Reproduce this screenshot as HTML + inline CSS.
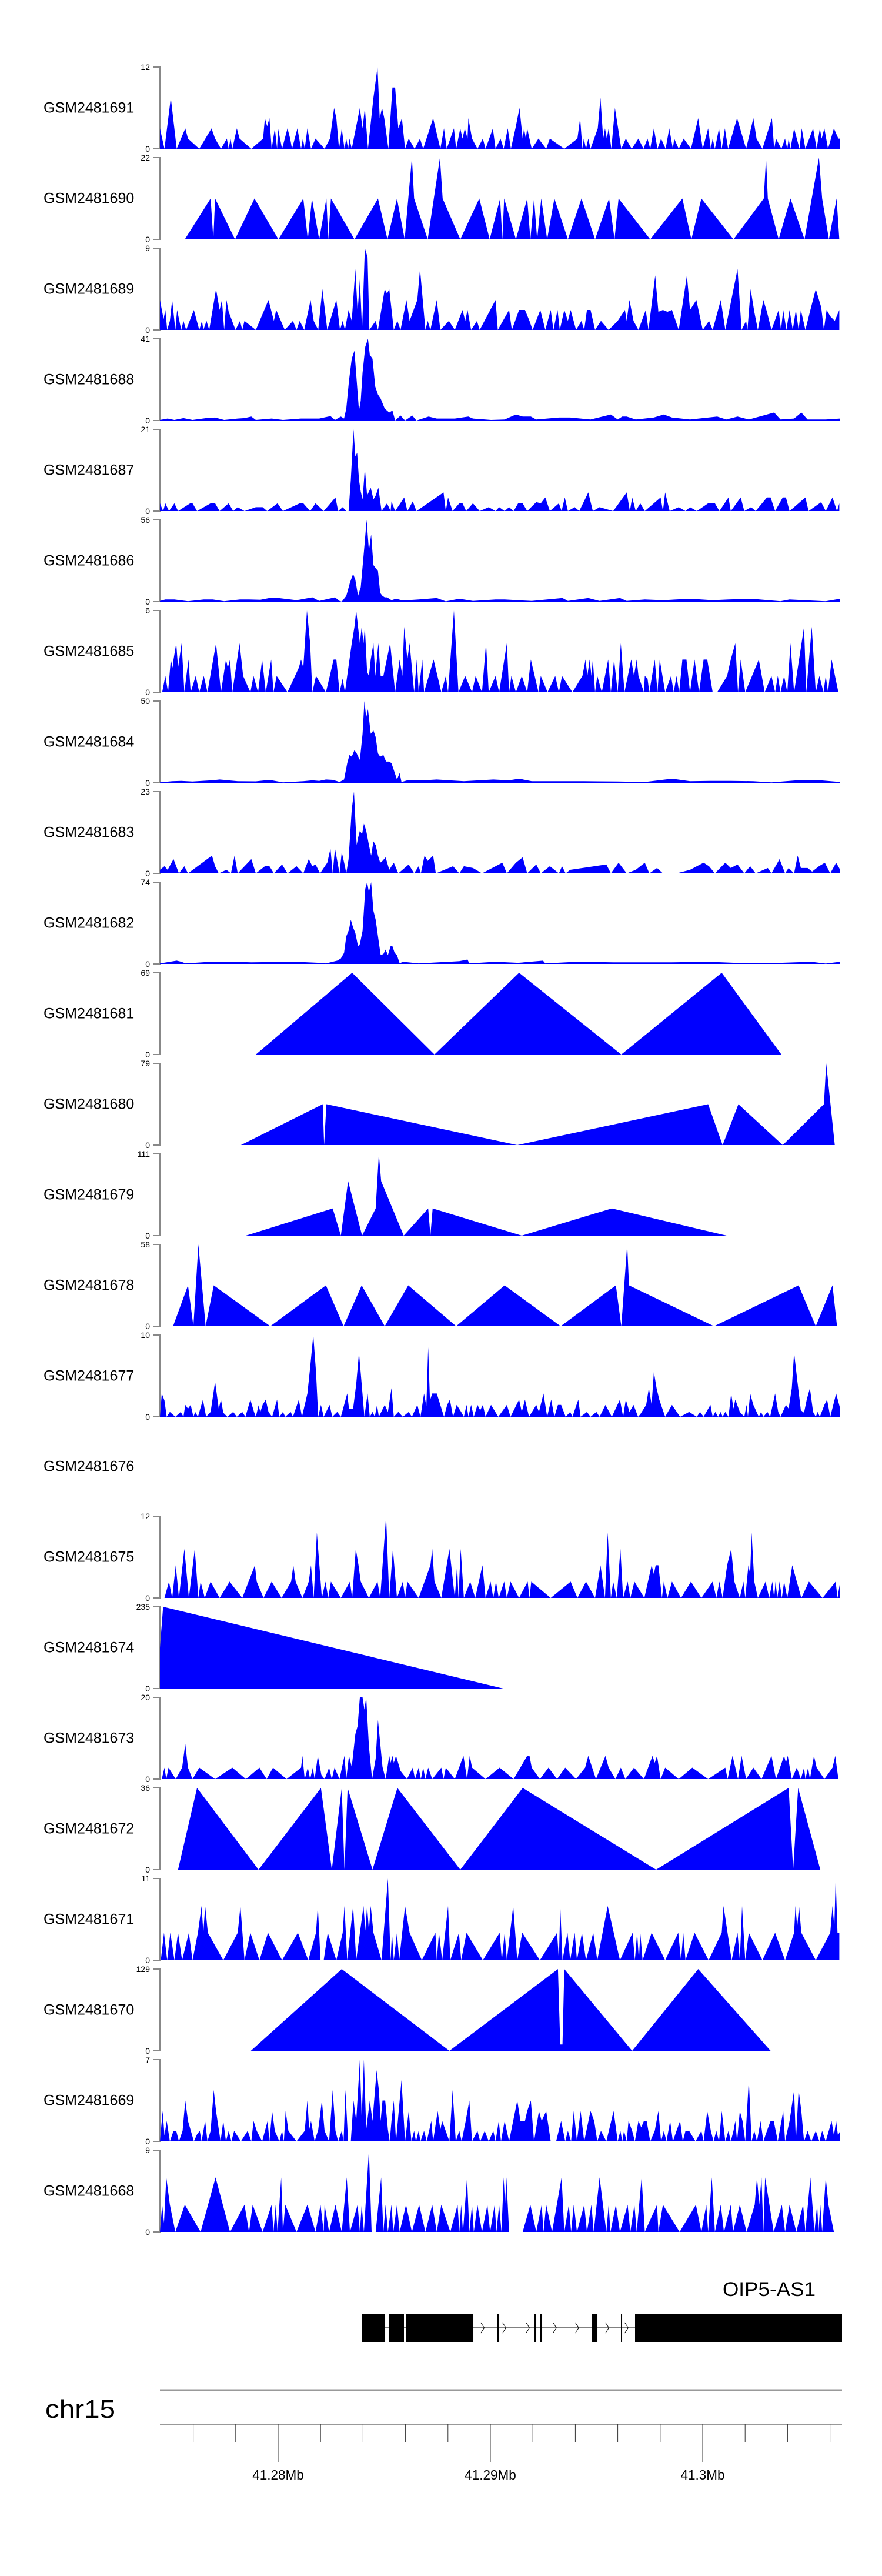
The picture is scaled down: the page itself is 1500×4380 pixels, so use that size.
<!DOCTYPE html>
<html><head><meta charset="utf-8">
<style>
html,body{margin:0;padding:0;background:#fff;}
svg{display:block;font-family:"Liberation Sans",Arial,sans-serif;}
</style></head>
<body>
<svg id="chart" width="1500" height="4380" viewBox="0 0 1500 4380" xmlns="http://www.w3.org/2000/svg"></svg>
<script>
// Sample names (top to bottom)
const sampleNames = ["GSM2481691","GSM2481690","GSM2481689","GSM2481688","GSM2481687","GSM2481686","GSM2481685","GSM2481684","GSM2481683","GSM2481682","GSM2481681","GSM2481680","GSM2481679","GSM2481678","GSM2481677","GSM2481676","GSM2481675","GSM2481674","GSM2481673","GSM2481672","GSM2481671","GSM2481670","GSM2481669","GSM2481668"];
// y-axis maximum per track (null = no data)
const yMax = [12,22,9,41,21,56,6,50,23,74,69,79,111,58,10,null,12,235,20,36,11,129,7,9];
// coverage: flat [bin, value] pairs; bins of ~21bp, domain 28..1532
const cov691 = [28,3,38,0,52,7.5,65,0,84,3,90,1.5,115,0,142,3,150,1.5,163,0,176,1.5,180,0,184,1.5,188,0,198,3,204,1.5,230,0,256,1.5,260,4.5,265,3.3,270,4.5,275,0,282,3,287,0,289,3,298,0,310,3,316,1.5,320,0,332,3,340,0,344,1.5,348,0,354,3,362,0,372,1.5,392,0,404,1.5,413,6,418,4.5,424,0,430,3,436,0,440,1.5,444,0,447,1.5,452,0,470,6,476,3,481,6,488,0,500,7.5,509,12,514,4.5,519,6,524,4.5,533,0,542,9,548,9,555,3,563,4.5,570,0,578,1.5,591,0,603,1.5,610,0,632,4.5,648,0,656,3,662,0,678,3,683,0,692,3,697,1.5,702,3,708,1.5,710,4.5,718,1.5,730,0,742,1.5,748,0,764,3,770,0,781,1.5,788,0,797,3,804,0,814,3,823,6,830,1.5,833,3,837,1.5,840,3,850,0,865,1.5,882,0,890,1.5,922,0,951,1.5,957,4.5,962,0,965,1.5,970,0,975,1.5,980,0,996,3,1002,7.5,1008,1.5,1012,3,1016,1.5,1020,3,1026,0,1034,6,1048,0,1058,1.5,1071,0,1086,1.5,1097,0,1106,1.5,1112,0,1120,3,1124,1.5,1128,0,1136,1.5,1146,0,1154,3,1162,0,1165,1.5,1175,0,1186,1.5,1202,0,1218,4.5,1228,0,1240,3,1246,0,1250,1.5,1255,0,1264,3,1270,0,1277,3,1284,0,1304,4.5,1324,0,1340,4.5,1347,1.5,1360,0,1381,4.5,1386,0,1390,1.5,1402,0,1410,1.5,1415,0,1418,1.5,1422,0,1430,3,1442,0,1447,3,1455,0,1472,3,1480,0,1487,3,1491,1.5,1497,3,1505,0,1518,3,1528,1.5,1532,1.5];
const cov690 = [83,0,140,11,146,0,150,11,194,0,237,11,290,0,345,11,355,0,364,11,380,0,396,11,400,0,406,11,458,0,510,11,531,0,552,11,569,0,585,22,590,11,620,0,647,22,653,11,692,0,734,11,757,0,780,11,785,0,789,11,815,0,840,11,847,0,855,11,862,0,871,11,884,0,900,11,930,0,960,11,990,0,1021,11,1033,0,1042,11,1112,0,1183,11,1203,0,1225,11,1296,0,1363,11,1368,22,1372,11,1396,0,1422,11,1453,0,1485,22,1492,11,1507,0,1524,11,1530,0];
const cov689 = [28,3.3,36,1.2,40,2.2,44,0,50,1,55,3.3,62,0,66,2.2,75,0,80,1,86,0,103,2.2,115,0,121,1,124,0,131,1,137,0,152,4.5,160,2.2,165,3.3,170,0,175,3.3,180,2,195,0,205,1,210,0,215,1,240,0,268,3.3,280,1,285,2.2,304,0,322,1,330,0,337,1,347,0,361,3.3,368,1,378,0,387,4.5,398,0,418,3.3,426,0,432,1,437,0,445,2.2,452,1,460,6.7,465,2,470,5.6,475,0,481,9,487,8,491,0,505,1,510,0,525,4.5,530,4,535,4.5,545,0,553,1,560,0,573,3.3,580,1,597,3.3,603,6.7,615,0,620,1,626,0,640,3.3,648,0,667,1,680,0,697,2.2,703,1,708,2.2,716,0,729,1,735,0,770,3.3,775,0,800,2.2,806,0,822,2.2,835,2.2,845,1,852,0,869,2.2,880,0,892,2.2,898,0,907,2.2,912,0,922,2.2,930,1,936,2.2,948,0,960,1,966,0,972,2.2,980,2.2,990,0,1003,1,1020,0,1040,1,1056,2.2,1060,1,1066,3.3,1075,1,1086,0,1102,2.2,1108,0,1123,6,1130,2,1140,2.2,1150,2,1160,2.2,1175,0,1193,6,1200,2.2,1214,3.3,1228,0,1242,1,1250,0,1268,3.3,1278,0,1305,6.7,1314,0,1324,1,1327,0,1334,4.5,1342,2,1350,0,1362,3.3,1370,2,1380,0,1396,2.2,1401,0,1406,2.2,1413,0,1420,2.2,1427,0,1434,2.2,1440,0,1445,2.2,1455,0,1465,2,1478,4.5,1490,2.5,1496,0,1502,2.2,1510,1.5,1520,1,1530,2.2];
const cov688 = [28,0.3,45,1,60,0.3,80,1.2,100,0.3,130,1.2,150,1.5,170,0.3,200,1,215,1.2,230,2,240,0.3,275,1,300,0.3,340,1,380,1,405,2.2,415,0.3,428,2,435,1,440,6,446,20,452,31,458,35,463,20,468,5,472,10,476,24,482,37,488,41,492,33,498,31,504,17,510,13,516,11,525,6,535,4,542,5,548,0,560,2.5,570,0,586,2.5,595,0,622,2,640,1,680,1,710,2,720,1,760,0.3,790,0.5,815,3,830,2,848,2,860,0.5,910,1.5,935,1.5,980,0.5,1025,3,1040,0.5,1050,2,1060,2,1080,0.5,1120,1.5,1142,3,1160,1.5,1200,0.5,1260,2,1280,0.5,1305,2,1330,0.5,1386,4,1400,0.5,1430,1,1446,4,1460,0.5,1500,0.5,1532,1];
const cov687 = [28,2,35,0,40,2,48,0,60,2,68,0,95,2,100,2,110,0,140,2,150,2,160,0,180,2,190,0,200,1,215,0,240,1,255,1,265,0,288,2,300,0,337,2,345,2,360,0,372,2,390,0,416,3.5,422,0,432,1,440,0,445,0,450,8,456,21,460,14,464,15,468,8,472,5,476,3,481,11,486,4,490,5,494,6,500,3,505,4,511,6,518,0,530,2,538,0,540,2.5,548,0,568,3.5,575,0,587,2.5,595,0,655,4.8,660,0,665,3.5,675,0,690,2,697,2,705,0,720,2,735,0,755,1,770,0,778,1,790,0,800,1,810,0,820,2,830,2,840,0,860,2.3,870,2,880,3.5,890,0,910,2,916,0,923,3.5,930,0,945,1,955,0,975,4.8,985,0,1000,1,1030,0,1060,4.8,1067,0,1072,3.5,1080,0,1090,2,1100,0,1135,3.5,1140,0,1145,4.8,1155,0,1175,1,1190,0,1200,1,1215,0,1240,2,1255,2,1265,0,1285,3.5,1290,0,1312,3.5,1320,0,1335,1,1345,0,1370,3.5,1378,3.5,1388,0,1405,3.5,1412,3.5,1420,0,1455,3.5,1462,0,1490,2.3,1500,0,1515,3.5,1525,0,1530,2];
const cov686 = [28,0.5,40,1.5,60,1.5,90,0.3,125,1.5,145,1.5,170,0.3,205,1.5,225,1.5,250,1.3,270,2.5,290,2.5,330,1,365,3,380,0.5,415,3,425,0.5,430,0,440,4,448,13,455,19,460,15,466,4,472,10,480,38,485,56,490,35,495,46,500,25,510,21,515,6,520,4,525,3,530,3,540,1,550,2,565,0.8,600,1.5,640,2.5,660,0.2,690,2,720,0.5,770,1.5,790,1.5,850,0.5,918,2.5,930,0.5,975,2.5,1000,0.5,1045,2.5,1060,0.5,1100,1.5,1140,1,1200,2,1250,1,1285,1.5,1335,2,1400,0.3,1420,1.5,1500,0.3,1532,2];
const cov685 = [33,0,40,1.2,46,0,52,2.4,56,1.8,58,2.4,64,3.6,68,1.8,76,3.6,82,0,91,2.4,96,0,107,1.2,115,0,125,1.2,133,0,152,3.6,163,0,174,2.4,178,1.8,183,2.4,188,0,204,3.6,212,1.2,228,0,235,1.2,245,0,254,2.4,262,0,274,2.4,279,0,286,1.2,310,0,335,1.8,340,2.4,345,1.8,353,6,360,3.6,365,0,373,1.2,395,0,412,2.4,418,2.4,425,0,432,1,437,0,452,3.6,458,4.8,462,6,466,4.8,470,3.6,474,4.8,478,3.6,481,4.8,486,1.5,490,1.2,494,2.4,500,3.6,504,1.2,511,3.6,516,1.2,522,1.2,537,3.6,548,0,558,2.4,564,1.2,568,4.8,575,2.4,580,3.6,590,0,596,2.4,600,0,608,2.4,612,0,633,2.4,650,0,660,1.2,665,0,678,6,688,0,703,1.2,718,0,726,1.2,740,0,749,3.6,755,0,770,1.2,778,0,795,3.6,800,0,805,1.2,815,0,828,1.2,840,0,848,2.4,865,0,870,1.2,885,0,902,1.2,910,0,917,1.2,940,0,962,1.2,969,2.4,973,1.2,978,2.4,982,1.2,985,2.4,990,0,995,1.2,1005,0,1019,2.4,1025,0,1032,2.4,1040,0,1047,3.6,1055,0,1070,2.4,1076,1.2,1082,2.4,1086,1.2,1098,0,1100,1.2,1106,1,1110,0,1122,2.4,1128,0,1133,2.4,1145,0,1158,1.2,1164,0,1170,1.2,1176,0,1183,2.4,1192,2.4,1200,0,1210,2.4,1220,0,1230,2.4,1238,2.4,1250,0,1260,0,1282,1.2,1290,2.4,1300,3.6,1306,0,1312,2.4,1322,0,1352,2.4,1365,0,1380,1.2,1388,0,1394,1.2,1400,0,1408,1.2,1415,0,1422,3.6,1430,0,1452,4.8,1457,0,1469,4.8,1478,0,1486,1.2,1495,0,1500,1.2,1505,0,1513,2.4,1528,0];
const cov684 = [28,0.3,55,1,75,1.2,100,0.8,145,1.6,160,2,200,1,240,0.9,270,1.8,300,0.3,345,1,365,1.5,380,1.2,395,2,410,1.8,420,1,425,0.5,435,2,442,12,447,17,452,16,458,20,463,18,470,14,476,30,480,50,484,40,488,45,494,30,500,32,505,28,510,18,515,16,522,17,528,13,535,13,540,12,546,7,552,2,558,6,562,0.5,575,1.5,610,1.5,640,2,700,1,765,2,800,1.5,822,2.5,850,1,920,1,965,1,1040,0.8,1100,0.5,1160,2.5,1200,1,1245,1.2,1290,1.2,1340,1,1380,0.3,1436,1.5,1490,1.5,1532,0.5];
const cov683 = [28,1,38,2,45,1,58,4,70,0,82,2,90,0,143,5,150,2,158,0,175,1,185,0,193,5,200,0,230,4,240,0,260,2,270,2,280,0,298,2.5,310,0,330,2,345,0,357,4,365,2,372,2.5,382,0,398,3,405,7,410,0,415,7,425,0,430,6,437,2,440,0,445,4,452,18,457,23,460,15,463,8,466,10,470,12,475,11,479,14,484,12,490,8,495,5,500,9,505,8,510,5,515,3,520,3.5,527,4.5,535,1,545,3,555,0,578,2.5,590,0,600,2,605,0,613,5,620,3.5,632,5,638,0,676,2,690,0,700,2,720,1.5,740,0,785,3,795,0,815,3,830,4.5,840,0,860,2.5,870,0,890,2,910,0,917,2,925,0,935,1,1015,2.5,1025,0,1042,3,1060,0,1080,1,1100,3,1110,0,1127,1.5,1140,0,1170,0,1200,1,1215,2,1230,3,1242,2,1255,0,1278,3,1290,1.5,1305,2.5,1320,0,1333,2,1345,0,1372,1.5,1380,0,1398,4,1410,0,1418,1.5,1430,0,1438,5,1445,1.5,1460,1.5,1470,0.5,1485,2,1498,3,1510,0,1523,3,1532,1];
const cov682 = [28,0.5,65,3,75,2,85,0.5,140,2,190,2,230,1.5,325,2,380,1,395,0.5,410,2,420,3,428,5,435,10,440,25,446,31,450,40,455,33,460,28,466,16,470,18,476,30,482,68,486,74,490,65,495,74,500,48,505,40,510,25,516,8,522,9,527,13,532,8,538,16,542,16,547,10,552,8,558,0.5,565,2,600,0.5,690,2.5,708,4,712,0.5,770,2,820,1,875,3,880,0.5,950,2,1030,1.5,1065,1.5,1160,1.5,1240,2,1300,1,1400,1,1468,2,1500,0.3,1532,2];
const cov681 = [240,0,453,69,635,0,822,69,1048,0,1270,69,1402,0];
const cov680 = [207,0,388,39.5,391,0,396,39.5,818,0,1240,39.5,1272,0,1307,39.5,1405,0,1496,39.5,1501,79,1520,0];
const cov679 = [218,0,410,37,428,0,444,74,475,0,505,37,512,111,517,74,567,0,621,37,626,0,631,37,828,0,1027,37,1281,0];
const cov678 = [57,0,90,29,102,0,113,58,129,0,147,29,272,0,395,29,434,0,474,29,525,0,577,29,683,0,790,29,914,0,1036,29,1048,0,1061,58,1065,29,1253,0,1440,29,1478,0,1515,29,1525,0];
const cov677 = [28,0,32,2.85,38,2,43,0,50,0.6,62,0,74,0.6,80,0,84,1.45,90,1,96,1.45,102,0,106,0.6,112,0,123,2.1,130,0,140,0.6,150,4.3,158,1,163,2.1,168,0.5,177,0,190,0.6,198,0,210,0.6,217,0,228,2.1,236,0.6,240,0,246,1.4,250,0.6,255,1.45,262,2.1,268,0.6,276,0,287,2.1,292,0,300,0.6,305,0,317,0.6,322,0,335,2.1,342,0,354,2.85,360,6,367,10,373,5.5,378,0,384,1.45,390,0,403,1.45,409,0,420,0.6,428,0,442,2.85,446,1,455,1,462,4,468,7.85,474,4,480,0,487,2.85,492,0,498,0.6,503,0,508,1.45,512,0,525,1.45,532,0.6,540,3.5,545,0,555,0.6,565,0,578,0.6,585,0,597,1.45,604,0,612,2.85,617,1.3,621,8.5,625,2,630,2.85,640,2.85,656,0,663,1.45,669,2.1,676,0,684,1.45,694,0.6,700,0,706,1.45,710,0,716,1.45,722,0,730,1.45,736,0.8,742,1.45,748,0,760,1.45,776,0,795,1.45,803,0,822,2.1,828,0.6,835,2.1,844,0,860,1.45,866,0.6,876,2.85,884,0,893,2.1,900,0,908,1.45,915,1.45,925,0,935,0.6,940,0,953,2.1,958,0,972,0.6,980,0,993,0.6,1000,0,1013,1.45,1027,0,1045,2.1,1052,0,1058,2.1,1066,0.6,1075,1.45,1085,0,1090,0.3,1103,1.45,1109,3.5,1115,1.5,1120,5.5,1126,3.5,1132,2.1,1145,0,1160,1.45,1178,0,1198,0.6,1215,0,1222,0.6,1230,0,1245,1.45,1250,0,1256,0.6,1262,0,1268,0.6,1272,0,1278,0.6,1285,0,1291,2.85,1296,1,1300,2.1,1310,0.6,1320,0,1325,1.45,1328,0,1333,2.85,1340,1.45,1352,0,1357,0.6,1362,0,1371,0.6,1377,0,1388,2.85,1395,0.6,1400,0,1412,1.45,1418,1,1425,3.5,1430,7.85,1437,4.5,1445,0.8,1452,0.5,1458,2.1,1465,3.5,1472,0.6,1478,0,1482,0.6,1487,0,1497,1.45,1503,2.1,1510,0,1523,2.85,1532,1];
const cov676 = [];
const cov675 = [38,0,48,2.4,55,0,63,4.8,70,0,82,7.2,92,0,105,7.2,113,0,118,2.4,127,0,140,2.4,160,0,182,2.4,210,0,238,4.8,242,2.4,257,0,275,2.4,297,0,318,2.4,323,4.8,328,2.4,343,0,357,2.4,362,4.8,368,0,375,9.6,386,0,394,2.4,400,0,406,2.4,428,0,448,2.4,453,0,461,7.2,467,4.8,472,2.4,490,0,509,2.4,515,0,528,12,535,0,543,7.2,552,0,565,2.4,570,0,575,2.4,600,0,626,4.8,630,7.2,635,2.4,650,0,668,7.2,680,0,685,4.8,688,0,693,7.2,700,0,714,2.4,725,0,741,4.8,748,0,759,2.4,765,0,771,2.4,777,0,789,2.4,795,0,803,2.4,822,0,841,2.4,845,0,849,2.4,892,0,936,2.4,951,0,970,2.4,990,0,1002,4.8,1012,0,1018,9.6,1025,0,1030,2.4,1038,0,1046,7.2,1052,0,1062,2.4,1068,0,1077,2.4,1099,0,1115,4.8,1120,3.5,1124,4.8,1130,4.8,1138,0,1142,2.4,1150,0,1160,2.4,1180,0,1202,2.4,1225,0,1250,2.4,1258,0,1265,2.4,1272,0,1282,4.8,1291,7.2,1298,2.4,1310,0,1318,2.4,1322,0,1329,4.8,1333,3.5,1336,9.6,1342,2.4,1350,0,1367,2.4,1375,0,1382,2.4,1386,0,1389,2.4,1393,0,1398,2.4,1403,0,1408,2.4,1415,0,1426,4.8,1446,0,1463,2.4,1493,0,1522,2.4,1526,0,1532,2.4];
const cov674 = [28,117,35,235,787,0];
const cov673 = [32,0,38,2.8,42,0,47,2.8,63,0,77,2.8,84,8.6,90,2.8,100,0,115,2.8,150,0,188,2.8,218,0,248,2.8,264,0,278,2.8,308,0,340,2.8,343,5.7,348,0,355,2.8,360,0,366,2.8,370,0,377,5.7,385,1,392,0,402,2.8,408,0,414,2.8,425,0,436,5.7,440,0,446,5.7,452,3,460,11,465,13,470,20,476,20,480,17,484,20,490,8,497,0,505,5,510,14.5,520,3,527,0,535,5.7,538,4,542,5.7,545,4,550,5.7,560,2,574,0,587,2.8,592,0,600,2.8,605,0,610,2.8,615,0,621,2.8,630,0,650,2.8,655,0,660,2.8,680,0,699,5.7,707,0,713,5.7,718,2.8,748,0,779,2.8,810,0,840,5.7,845,5.7,850,2.8,868,0,887,2.8,906,0,924,2.8,948,0,968,2.8,975,5.7,992,0,1013,5.7,1020,2.8,1035,0,1047,2.8,1057,0,1076,2.8,1098,0,1117,5.7,1122,4,1127,5.7,1135,0,1145,2.8,1175,0,1205,2.8,1240,0,1278,2.8,1283,0,1294,5.7,1306,0,1314,5.7,1324,0,1340,2.8,1358,0,1380,5.7,1390,0,1408,5.7,1412,4,1416,5.7,1425,0,1436,2.8,1445,0,1452,2.8,1455,0,1461,2.8,1465,0,1474,5.7,1480,2.8,1497,0,1515,2.8,1521,5.7,1528,0];
const cov672 = [68,0,110,36,246,0,384,36,408,0,430,36,436,0,443,36,498,0,553,36,692,0,830,36,1125,0,1418,36,1428,0,1439,36,1488,0];
const cov671 = [30,0,37,3.7,44,0,51,3.7,60,0,68,3.7,77,0,92,3.7,100,0,112,3.7,120,7.3,124,3.7,128,7.3,134,3.7,168,0,200,3.7,206,7.3,215,0,228,3.7,248,0,267,3.7,298,0,333,3.7,356,0,373,3.7,377,7.3,383,0,390,0,399,3.7,418,0,432,3.7,436,7.3,442,0,455,7.3,462,0,478,7.3,482,4,486,7.3,490,4,494,7.3,500,3.7,518,0,532,11,538,0,541,3.7,545,0,552,3.7,557,0,570,7.3,580,3.7,607,0,637,3.7,640,0,645,3.7,652,0,665,7.3,670,0,689,3.7,694,0,706,3.7,742,0,779,3.7,784,0,790,3.7,795,0,809,7.3,818,0,829,3.7,868,0,906,3.7,910,0,913,7.3,918,0,929,3.7,935,0,945,3.7,950,0,961,3.7,970,0,986,3.7,995,0,1018,7.3,1045,0,1073,3.7,1078,0,1083,3.7,1087,0,1090,3.7,1095,0,1115,3.7,1145,0,1174,3.7,1180,0,1185,3.7,1190,0,1210,3.7,1241,0,1270,3.7,1274,7.3,1292,0,1305,3.7,1310,0,1315,7.3,1322,0,1330,3.7,1360,0,1388,3.7,1410,0,1430,3.7,1433,7.3,1437,4.5,1441,7.3,1446,3.7,1478,0,1510,3.7,1515,7.3,1519,4.5,1522,11,1526,3.7,1530,3.7];
const cov670 = [229,0,430,129,668,0,908,129,913,10,918,10,922,129,1072,0,1218,129,1378,0];
const cov669 = [28,0,34,2.6,38,0.5,43,1.75,50,0,58,0.9,64,0.9,70,0,78,0.9,84,3.5,90,1.75,103,0,110,0.6,116,0.9,120,0,128,1.75,133,0,140,0.9,147,4.4,152,2.6,162,0,168,1.75,174,0,180,0.9,186,0,192,0.9,207,0,222,0.9,230,0,235,1.75,242,0.9,254,0,266,1.75,270,0,276,2.6,282,0.9,292,0,298,0.9,302,0,306,2.6,312,0.9,330,0,348,0.9,354,3.5,358,1,362,1.75,370,0,378,1,386,3.5,392,0.9,402,0,410,4.4,416,0.9,422,0,430,0.9,434,0,438,4.4,444,0,450,0,456,3.5,462,1.75,470,7,474,2,479,7,484,1,492,3.5,498,1.75,507,6.1,512,4.4,516,1.75,520,3.5,526,3.5,532,1,536,0,540,1.75,545,3.5,550,0,562,5.25,570,0,578,2.6,584,0,590,0.9,594,0,600,0.9,604,0,612,0.9,618,0,628,1.75,632,0,642,2.6,648,1,652,1.75,668,0,675,4.4,682,0,690,0.9,695,0,704,1.75,712,3.5,718,0,730,0.9,736,0,746,0.9,755,0,765,0.9,770,0,777,1.75,782,0,790,1.75,800,0,818,3.5,825,1.75,835,1.75,840,2.6,848,3.5,855,0,866,2.6,872,1.75,882,2.6,892,0,904,0,915,1.75,924,0,930,0.9,937,0,943,2.6,950,0,958,2.6,966,0,980,2.6,988,1.75,995,0,1003,0.9,1015,0,1031,2.6,1040,0,1046,0.9,1050,0,1054,0.9,1060,0,1064,1.75,1072,0.9,1078,0,1086,1.75,1092,1.2,1098,1.75,1104,1.75,1112,0,1122,0.9,1130,2.6,1136,0,1142,0.9,1148,0,1156,1.75,1162,0,1170,0.9,1178,1.75,1184,0,1190,0.9,1198,0.9,1212,0,1225,0.9,1230,0,1238,2.6,1246,0.9,1252,0,1258,0.9,1264,0,1270,2.6,1278,0,1285,0.9,1290,0,1296,0.9,1300,1.75,1304,0,1310,2.6,1316,1.75,1322,0,1330,5.25,1336,0,1342,0.9,1348,0,1356,1.75,1362,0,1370,0.9,1378,1.75,1385,1.75,1394,0,1406,2.6,1410,0,1420,1.75,1430,4.4,1434,0,1440,4.4,1446,2.6,1452,0,1460,0.9,1468,0,1478,0.9,1486,0,1492,0.9,1500,0,1513,1.75,1518,0.5,1523,1.75,1527,0.5,1532,0.9];
const cov668 = [28,0,33,3,37,1,42,6,50,3,62,0,83,3,118,0,151,6,183,0,215,3,225,0,233,3,255,0,275,3,279,0,284,3,288,0,296,6,300,0,305,3,330,0,354,3,372,0,383,3,390,0,392,3,402,0,416,3,430,0,441,6,448,0,465,3,470,0,474,3,479,0,490,9,496,0,505,0,517,6,522,0,527,3,532,0,540,3,544,0,552,3,558,0,572,3,585,0,601,3,615,0,630,3,640,0,650,3,670,0,686,3,690,0,694,3,698,0,707,6,712,0,718,3,722,0,730,3,740,0,752,3,758,0,768,3,772,0,778,3,783,0,788,6,791,3,794,6,800,0,808,0,830,0,847,3,860,0,872,3,876,0,882,3,895,0,916,6,922,0,932,3,937,0,943,3,950,0,966,3,972,0,982,3,987,0,1000,6,1015,0,1020,3,1024,0,1036,3,1045,0,1062,3,1068,0,1077,3,1082,0,1093,6,1100,0,1127,3,1130,0,1140,3,1177,0,1213,3,1225,0,1236,3,1240,0,1248,6,1255,0,1268,3,1275,0,1290,3,1295,0,1310,3,1325,0,1343,3,1348,6,1353,3,1358,6,1362,0,1366,6,1385,0,1403,3,1410,0,1420,3,1435,0,1450,3,1455,0,1466,6,1475,0,1481,3,1484,0,1488,3,1492,0,1500,6,1506,3,1518,0];
const coverage = [cov691,cov690,cov689,cov688,cov687,cov686,cov685,cov684,cov683,cov682,cov681,cov680,cov679,cov678,cov677,cov676,cov675,cov674,cov673,cov672,cov671,cov670,cov669,cov668];
// gene model OIP5-AS1 exons (Mb)
const exonStarts = [41.283961,41.285235,41.286011,41.290332,41.292078,41.292327,41.294765,41.296150,41.296814];
const exonEnds   = [41.285042,41.285928,41.289197,41.290416,41.292161,41.292438,41.295042,41.296205,41.306565];
const chevronMb  = [41.289630,41.290650,41.291760,41.293030,41.294080,41.295500,41.296410];
// genome axis ticks (Mb)
const tickMb = [41.276,41.278,41.280,41.282,41.284,41.286,41.288,41.290,41.292,41.294,41.296,41.298,41.300,41.302,41.304,41.306];
const majorTickMb = [41.28,41.29,41.30];
const majorTickLabels = ["41.28Mb","41.29Mb","41.3Mb"];

const NS='http://www.w3.org/2000/svg';
const svg=document.getElementById('chart');
function mk(tag,attrs,parent){const e=document.createElementNS(NS,tag);for(const k in attrs)e.setAttribute(k,attrs[k]);(parent||svg).appendChild(e);return e;}
const TRACK_TOP0=114, TRACK_PITCH=154, TRACK_H=139, AXIS_X=272;
function xBin(b){return AXIS_X+(b-28)/1.3;}
function xMb(mb){return 473+(mb-41.28)*36100;}

sampleNames.forEach((name,i)=>{
  const top=TRACK_TOP0+i*TRACK_PITCH, zero=top+TRACK_H;
  const g=mk('g',{});
  
  
  const lab=mk('text',{x:74,y:top+TRACK_H/2+8,'font-size':25,fill:'#000'},g);
  lab.textContent=name;
  
  
  const mx=yMax[i];
  if(mx===null) return;
  const yv=v=>zero-(v/mx)*TRACK_H;
  const ax=mk('path',{d:`M${AXIS_X-12},${top}H${AXIS_X}V${zero}H${AXIS_X-12}`,stroke:'#888',fill:'none','stroke-width':2},g);
  
  
  const tMax=mk('text',{x:AXIS_X-17,y:top+5,'font-size':14,'text-anchor':'end',fill:'#000'},g);
  tMax.textContent=String(mx);
  
  
  const t0=mk('text',{x:AXIS_X-17,y:zero+5,'font-size':14,'text-anchor':'end',fill:'#000'},g);
  t0.textContent='0';
  
  
  const d=coverage[i];
  if(!d.length) return;
  let pts=`${xBin(d[0]).toFixed(1)},${zero} `;
  for(let k=0;k<d.length;k+=2) pts+=`${xBin(d[k]).toFixed(1)},${yv(d[k+1]).toFixed(1)} `;
  pts+=`${xBin(d[d.length-2]).toFixed(1)},${zero}`;
  const poly=mk('polygon',{points:pts,fill:'#0000ff',stroke:'none'},g);
  
  
});

// gene track
const gene=mk('g',{});


const gl=mk('text',{x:1229,y:3904,'font-size':34,textLength:158,lengthAdjust:'spacingAndGlyphs',fill:'#000'},gene);
gl.textContent='OIP5-AS1';


const il=mk('line',{x1:xMb(exonStarts[0]),x2:xMb(exonEnds[exonEnds.length-1]),y1:3958,y2:3958,stroke:'#000','stroke-width':1},gene);


chevronMb.forEach(mb=>{const x=xMb(mb);
  const c=mk('path',{d:`M${x-3},${3949}L${x+3},${3958}L${x-3},${3967}`,stroke:'#000',fill:'none','stroke-width':1},gene);
  
  
});
exonStarts.forEach((s,k)=>{const x1=xMb(s),x2=xMb(exonEnds[k]);
  const r=mk('rect',{x:x1,y:3935,width:Math.max(2,x2-x1),height:47,fill:'#000'},gene);
  
  
});

// genome axis
const ga=mk('g',{});


const chr=mk('text',{x:77,y:4111,'font-size':44,textLength:119,lengthAdjust:'spacingAndGlyphs',fill:'#000'},ga);
chr.textContent='chr15';


const l1=mk('line',{x1:272,x2:1432,y1:4064,y2:4064,stroke:'#999','stroke-width':3},ga);


const l2=mk('line',{x1:272,x2:1432,y1:4122,y2:4122,stroke:'#999','stroke-width':2},ga);


tickMb.forEach(mb=>{const x=xMb(mb);
  const t=mk('line',{x1:x,x2:x,y1:4122,y2:4153,stroke:'#333','stroke-width':1},ga);
  
  
});
majorTickMb.forEach((mb,k)=>{const x=xMb(mb);
  const t=mk('line',{x1:x,x2:x,y1:4122,y2:4186,stroke:'#333','stroke-width':1},ga);
  
  
  const lbl=mk('text',{x:x,y:4216,'font-size':23,'text-anchor':'middle',textLength:majorTickLabels[k].length*12.5,lengthAdjust:'spacingAndGlyphs',fill:'#000'},ga);
  lbl.textContent=majorTickLabels[k];
  
  
});
</script>
</body></html>
